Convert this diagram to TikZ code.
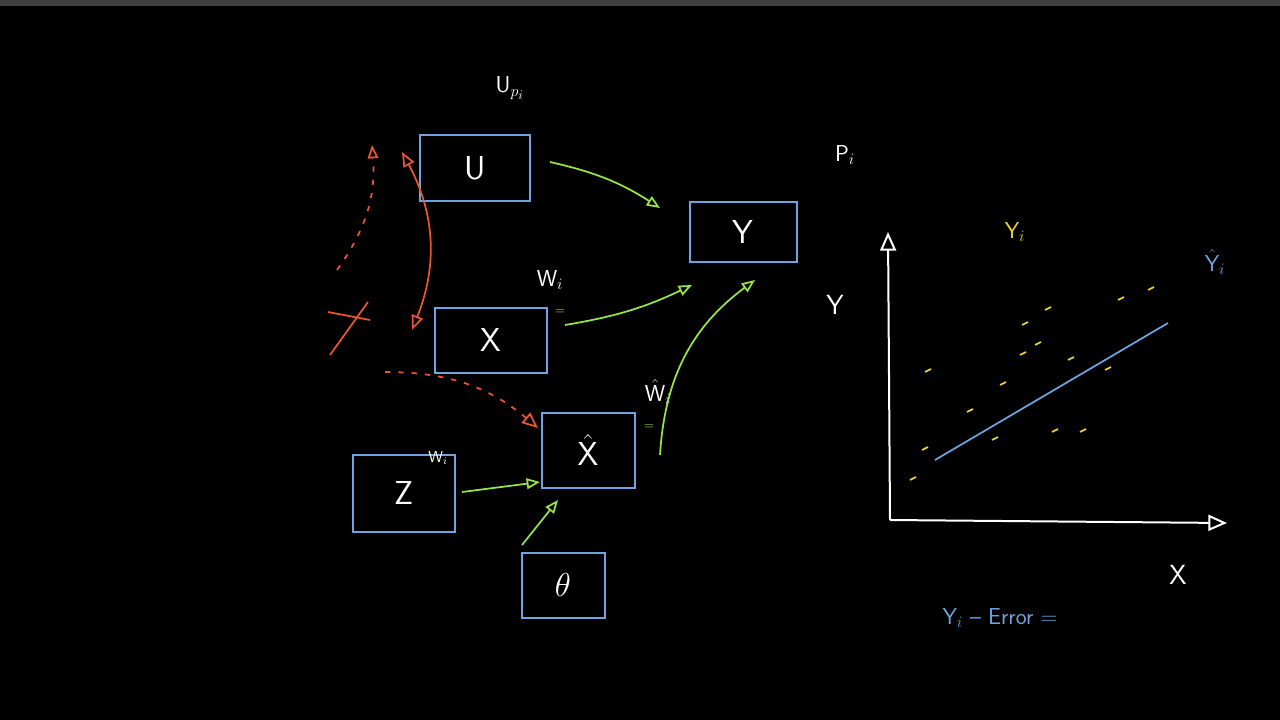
\documentclass[tikz,border=0pt]{standalone}
\usepackage{amsmath}
\usetikzlibrary{arrows.meta}
\definecolor{bluebox}{RGB}{110,165,225}
\definecolor{penred}{RGB}{235,85,50}
\definecolor{pengreen}{RGB}{150,230,70}
\definecolor{penyellow}{RGB}{240,215,40}
\tikzset{every picture/.style={line width=0.75pt}}
\tikzset{
  box/.style 2 args={draw=bluebox, line width=1.5pt, minimum width=#1*0.75pt, minimum height=#2*0.75pt, inner sep=0pt, text=white, font=\Huge\sffamily},
  grn/.style={draw=pengreen, line width=1.3pt, -{Triangle[open,length=10pt,width=8pt]}},
  rd/.style={draw=penred, line width=1.3pt},
  lbl/.style={text=white, font=\LARGE\sffamily},
}
\begin{document}
\begin{tikzpicture}[x=0.75pt,y=0.75pt,yscale=-1,xscale=1]
\fill[black] (0,0) rectangle (1280,720);
\fill[black!75] (0,0) rectangle (1280,6);
\useasboundingbox (0,0) rectangle (1280,720);

% boxes
\node[box={110}{66}] (u) at (475,168) {U};
\node[box={107}{60}] (y) at (743,232) {Y};
\node[box={112}{65}] (x) at (491,340) {X};
\node[box={93}{75}] (xh) at (588,450) {$\hat{\mathsf{X}}$};
\node[box={102}{77}] (z) at (404,493) {Z};
\node[box={83}{65}] (th) at (563,585) {$\theta$};

% labels
\node[lbl] (lup) at (510,88) {$\mathsf{U}_{p_i}$};
\node[lbl] (lpi) at (845,155) {$\mathsf{P}_i$};
\node[lbl] (lwx) at (550,280) {$\mathsf{W}_i$};
\node[lbl] (lwh) at (658,392) {$\hat{\mathsf{W}}_i$};
\node[lbl, font=\large\sffamily] (lwz) at (438,458) {$\mathsf{W}_i$};
\node[lbl, font=\huge\sffamily] (ly) at (835,305) {Y};
\node[text=pengreen] at (560,312) {=};
\node[text=pengreen] at (649,427) {=};

% green arrows
\coordinate (ua) at (550,162);
\coordinate (ya) at (660,208);
\draw[grn] (ua) to[bend right=10] (ya);
\draw[grn] (565,325) to[bend left=8] (692,285);
\draw[grn] (660,455) to[bend right=25] (755,280);
\draw[grn] (462,492) -- (540,482);
\draw[grn] (522,545) -- (558,500);

% red arrows
\draw[rd, {Triangle[open,length=11pt,width=9pt]}-{Triangle[open,length=11pt,width=9pt]}]
  (402,152) to[bend right=25] (412,330);
\draw[rd, dash pattern=on 4pt off 6pt, -{Triangle[open,length=10pt,width=8pt]}]
  (337,270) to[bend left=20] (372,145);
\draw[rd, dash pattern=on 4pt off 6pt, -{Triangle[open,length=12pt,width=10pt]}]
  (385,372) to[bend right=20] (538,428);
\draw[rd] (328,312) -- (370,320);
\draw[rd] (330,355) -- (368,302);

% graph
\coordinate (orig) at (890,520);
\draw[white, line width=1.5pt, -{Triangle[open,length=14pt,width=12pt]}] (orig) -- (888,232);
\draw[white, line width=1.5pt, -{Triangle[open,length=14pt,width=12pt]}] (orig) -- (1227,523);
\node[lbl, font=\huge\sffamily] (lx) at (1178,575) {X};
\draw[bluebox, line width=1.3pt] (935,460) -- (1168,323);
\foreach \px/\py in {910/480, 922/450, 925/372, 967/412, 992/440, 1000/385, 1020/355, 1022/325, 1035/345, 1045/310,
  1052/432, 1080/432, 1105/370, 1118/300, 1148/290, 1068/360}
  \draw[penyellow, line width=1.2pt] (\px,\py) -- ++(6,-3);
\node[text=penyellow, font=\LARGE\sffamily] (lyi) at (1015,232) {$\mathsf{Y}_i$};
\node[text=bluebox, font=\LARGE\sffamily] (lyh) at (1215,262) {$\hat{\mathsf{Y}}_i$};
\node[text=bluebox, font=\LARGE\sffamily] (lerr) at (1000,618) {$\mathsf{Y}_i$ -- Error =};
\end{tikzpicture}
\end{document}
